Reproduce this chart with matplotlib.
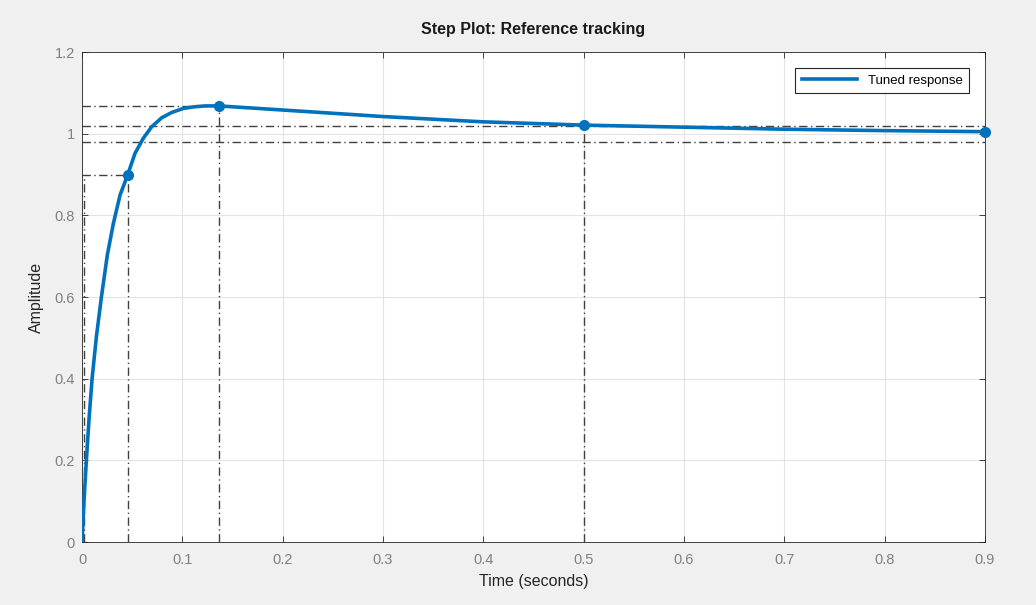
import matplotlib
matplotlib.use('Agg')
import matplotlib.pyplot as plt

plt.rcParams['font.family'] = ['Liberation Sans', 'DejaVu Sans']

# step response
time = [0.0, 0.002, 0.0043, 0.007, 0.010, 0.0143, 0.0193, 0.0252, 0.0312, 0.0379,
        0.0456, 0.0528, 0.0611, 0.0694, 0.0794, 0.0894, 0.101, 0.1126, 0.1226, 0.1366,
        0.2, 0.3, 0.4, 0.5, 0.6, 0.7, 0.8, 0.9]
amp = [0.0, 0.103, 0.2, 0.303, 0.4, 0.503, 0.6, 0.703, 0.78, 0.85,
       0.9, 0.952, 0.989, 1.017, 1.039, 1.052, 1.062, 1.066, 1.068, 1.068,
       1.058, 1.042, 1.029, 1.021, 1.016, 1.011, 1.0075, 1.005]

# characteristic points: rise (90%), peak, settling, final
mark_t = [0.0456, 0.1366, 0.5, 0.9]
mark_y = [0.9, 1.068, 1.021, 1.005]
t10 = 0.0015
settle_hi = 1.02
settle_lo = 0.98

blue = '#0072BD'
gray = '#404040'

fig = plt.figure(figsize=(10.36, 6.05), dpi=100, facecolor='#f0f0f0')
ax = fig.add_axes([0.0792, 0.1041, 0.8716, 0.8099])
ax.set_facecolor('white')

ds = dict(color=gray, lw=1.0, ls=(0, (6, 2.5, 1, 2.5)), zorder=2)
# rise time lines
ax.plot([0, mark_t[0]], [mark_y[0], mark_y[0]], **ds)
ax.plot([mark_t[0], mark_t[0]], [0, mark_y[0]], **ds)
ax.plot([t10, t10], [0, mark_y[0]], **ds)
# peak
ax.plot([0, mark_t[1]], [mark_y[1], mark_y[1]], **ds)
ax.plot([mark_t[1], mark_t[1]], [0, mark_y[1]], **ds)
# settling
ax.plot([0, 0.9], [settle_hi, settle_hi], **ds)
ax.plot([0, 0.9], [settle_lo, settle_lo], **ds)
ax.plot([mark_t[2], mark_t[2]], [0, mark_y[2]], **ds)

ax.plot(time, amp, color=blue, lw=2.6, label='Tuned response', zorder=3,
        solid_joinstyle='round')
ax.plot(mark_t, mark_y, 'o', color=blue, ms=7, zorder=4, clip_on=False)

ax.set_xlim(0, 0.9)
ax.set_ylim(0, 1.2)
ax.set_xticks([0, 0.1, 0.2, 0.3, 0.4, 0.5, 0.6, 0.7, 0.8, 0.9])
ax.set_xticklabels(['0', '0.1', '0.2', '0.3', '0.4', '0.5', '0.6', '0.7', '0.8', '0.9'])
ax.set_yticks([0, 0.2, 0.4, 0.6, 0.8, 1.0, 1.2])
ax.set_yticklabels(['0', '0.2', '0.4', '0.6', '0.8', '1', '1.2'])
ax.grid(True, color='#e3e3e3', lw=0.8, zorder=0)
ax.set_axisbelow(True)
ax.tick_params(direction='in', length=4, width=0.6, colors='#262626',
               labelcolor='#808080', labelsize=10.5, top=True, right=True)
ax.tick_params(axis='x', pad=8)
ax.tick_params(axis='y', pad=5)
for s in ax.spines.values():
    s.set_color('#262626')
    s.set_linewidth(0.6)

ax.set_xlabel('Time (seconds)', fontsize=11.5, color='#262626', labelpad=5)
ax.set_ylabel('Amplitude', fontsize=11.5, color='#262626', labelpad=8)
ax.set_title('Step Plot: Reference tracking', fontsize=11.5, fontweight='bold',
             color='#1a1a1a', pad=13)

leg = ax.legend(loc='upper right', fontsize=9.5, fancybox=False, framealpha=1,
                edgecolor='#262626', handlelength=4.2, borderaxespad=1.2,
                borderpad=0.5)
leg.get_frame().set_linewidth(0.8)

fig.savefig('out.png', dpi=100, facecolor=fig.get_facecolor())
